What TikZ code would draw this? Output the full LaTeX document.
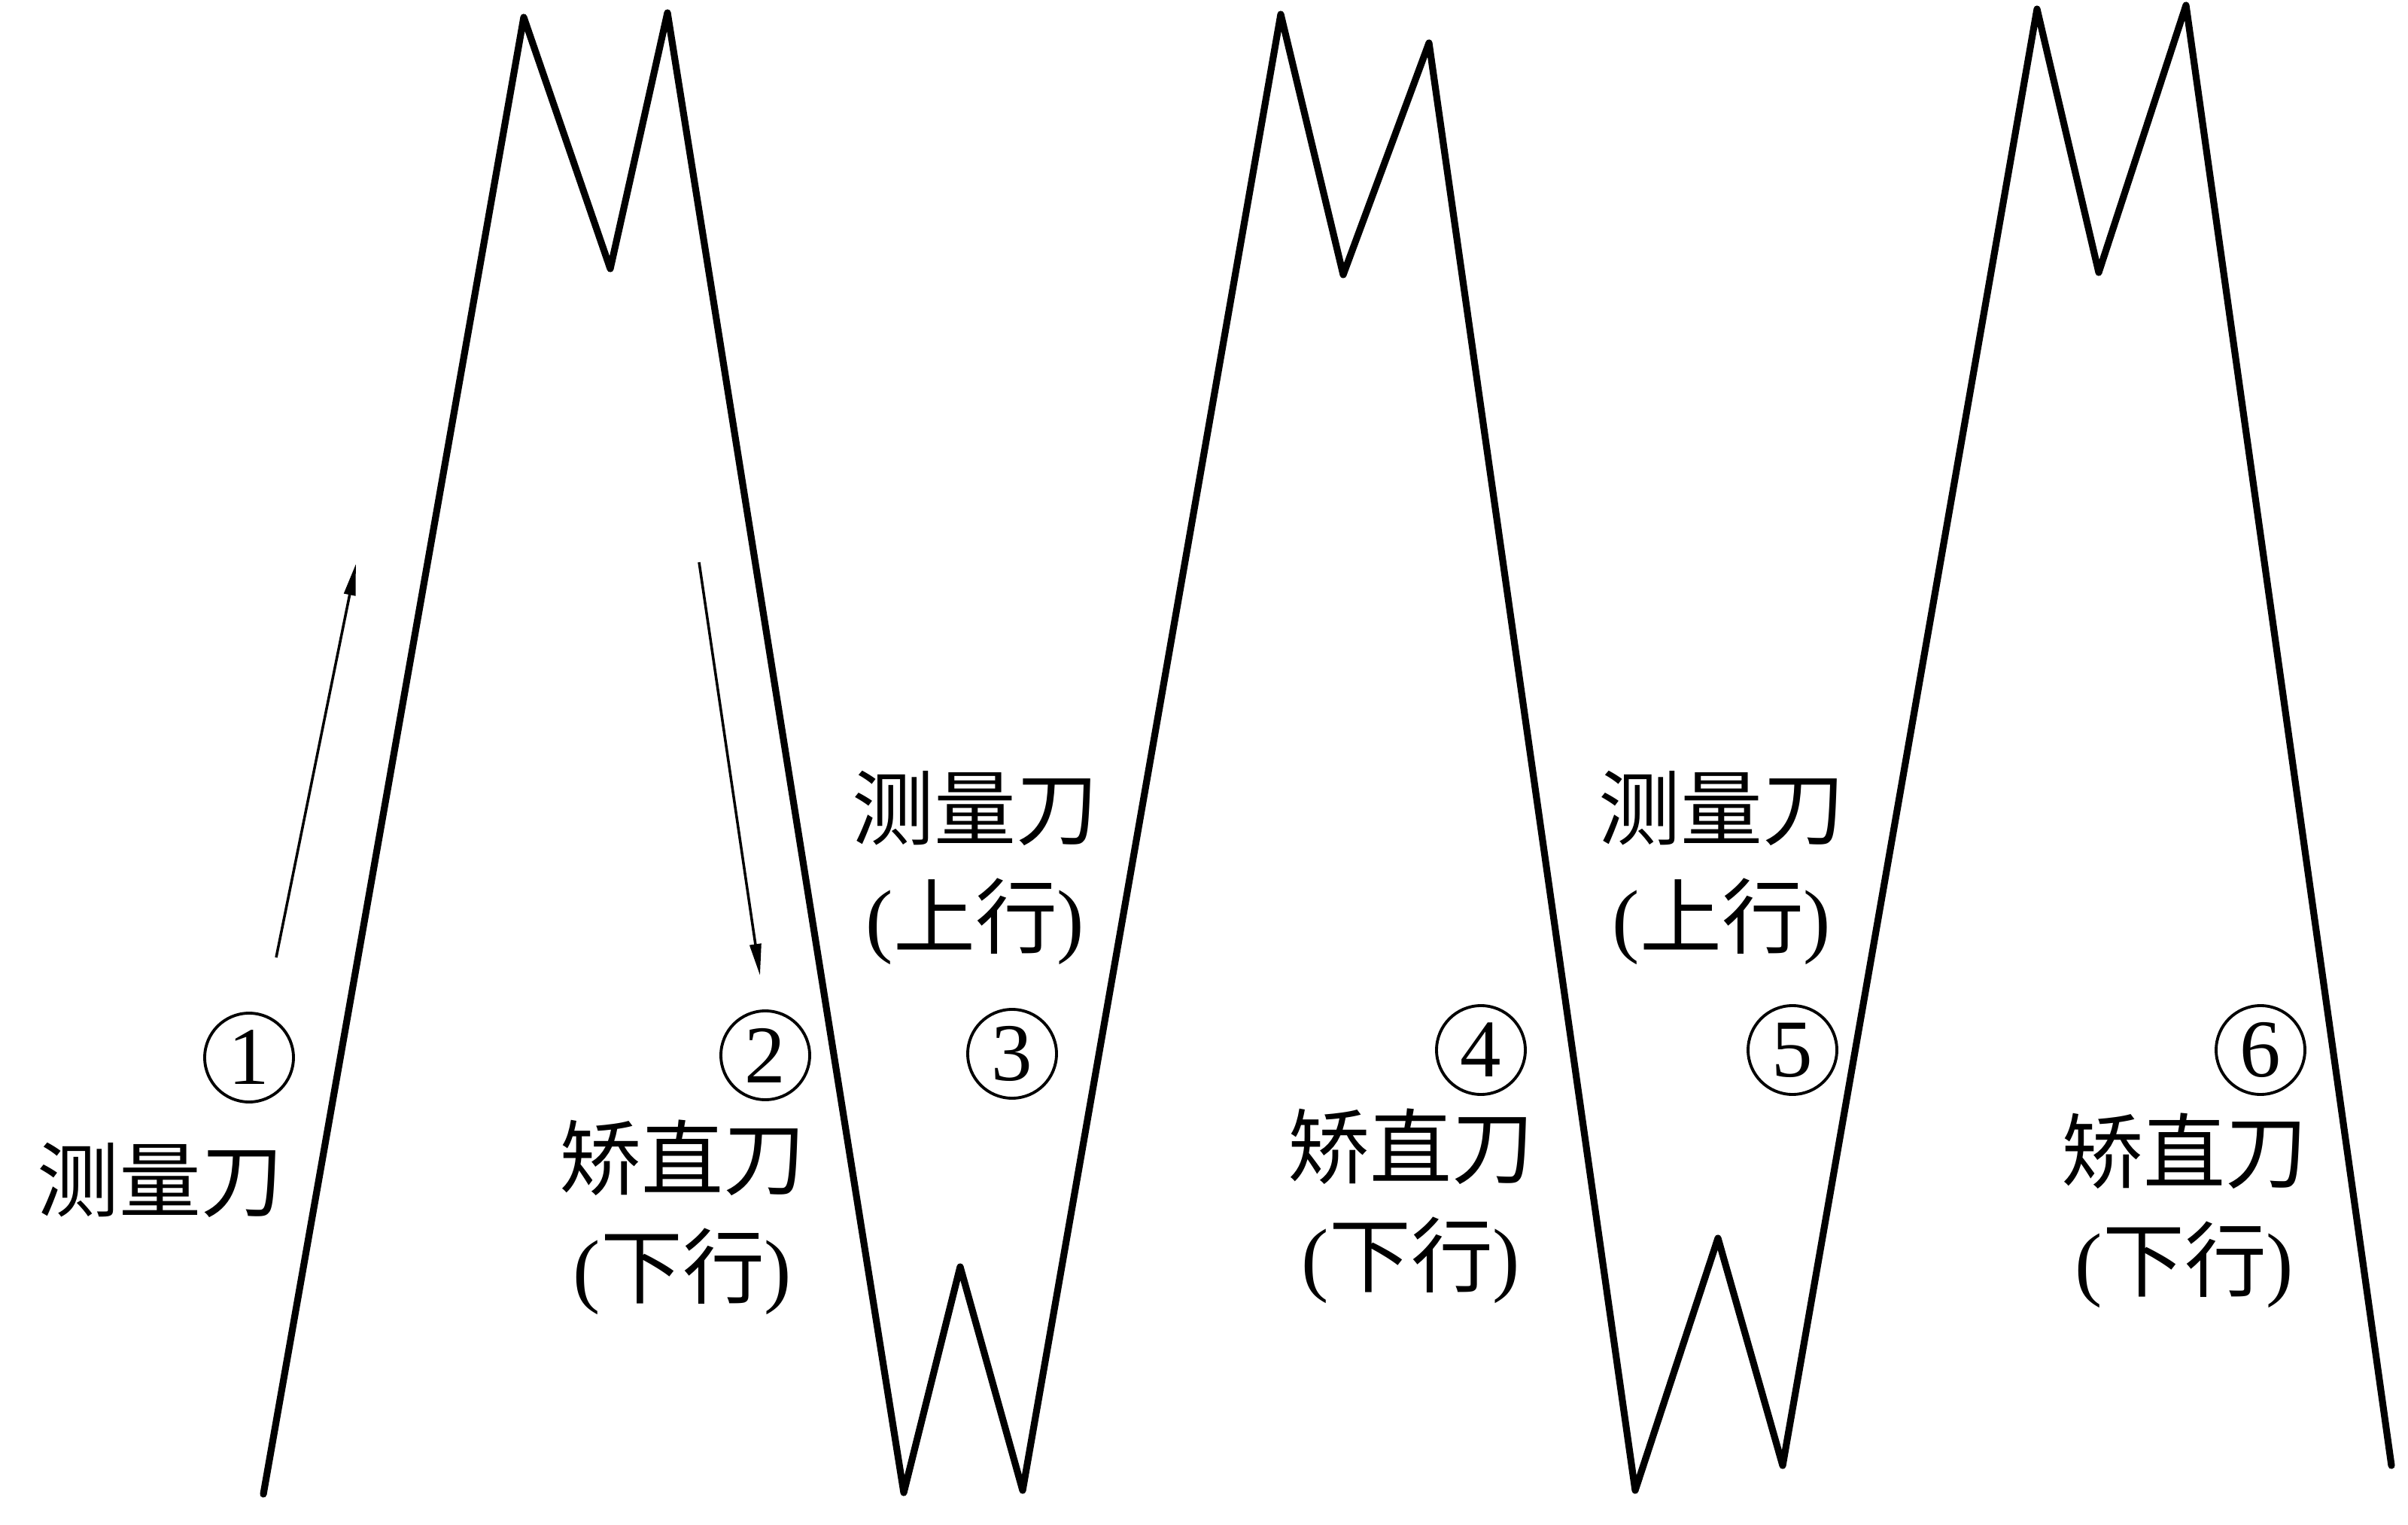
\documentclass[tikz,border=0pt]{standalone}
\usepackage{fontspec}
\setmainfont{Liberation Serif}
\newfontfamily\cjk{Noto Sans CJK SC}
\usetikzlibrary{arrows.meta}

\begin{document}
\begin{tikzpicture}[
        profile/.style={line width=2.6pt, line join=round, line cap=round},
        move/.style={line width=1pt, -{Triangle[length=4.2mm,width=1.5mm]}},
        num/.style={
        circle, draw=black, line width=1.1pt,
        inner sep=0pt, minimum size=1.18cm,
        font=\fontsize{31pt}{31pt}\selectfont},
        tag/.style={align=center, inner sep=0pt,
        font=\fontsize{31pt}{41pt}\selectfont},
        ]
        \useasboundingbox (0,0) rectangle (32,20.25);

        % tooth profile
        \coordinate (s)  at (3.50,0.40);
        \coordinate (p1) at (6.96,20.02);
        \coordinate (v1) at (8.11,16.68);
        \coordinate (p2) at (8.87,20.08);
        \coordinate (b1) at (12.01,0.42);
        \coordinate (m1) at (12.76,3.42);
        \coordinate (b2) at (13.59,0.45);
        \coordinate (p3) at (17.02,20.06);
        \coordinate (v3) at (17.85,16.60);
        \coordinate (p4) at (18.99,19.68);
        \coordinate (b3) at (21.73,0.45);
        \coordinate (m2) at (22.83,3.80);
        \coordinate (b4) at (23.69,0.78);
        \coordinate (p5) at (27.07,20.13);
        \coordinate (v5) at (27.89,16.63);
        \coordinate (p6) at (29.05,20.18);
        \coordinate (e)  at (31.78,0.78);

        \draw[profile] (s) -- (p1) -- (v1) -- (p2) -- (b1) -- (m1) -- (b2)
            -- (p3) -- (v3) -- (p4) -- (b3) -- (m2) -- (b4)
            -- (p5) -- (v5) -- (p6) -- (e);

        % travel arrows
        \coordinate (up0) at (3.67,7.53);
        \coordinate (up1) at (4.73,12.76);
        \coordinate (dn0) at (9.29,12.78);
        \coordinate (dn1) at (10.10,7.29);
        \draw[move] (up0) -- (up1);
        \draw[move] (dn0) -- (dn1);

        \node (n1) [num] at (3.31,6.20) {1};
        \node (n2) [num] at (10.17,6.23) {2};
        \node (n3) [num] at (13.45,6.25) {3};
        \node (n4) [num] at (19.68,6.30) {4};
        \node (n5) [num] at (23.82,6.30) {5};
        \node (n6) [num] at (30.04,6.30) {6};

        \node (t1) [tag] at (2.13,4.57) {\cjk 测量刀};
        \node (t2) [tag] at (9.07,4.08) {{\cjk 矫直刀}\\({\cjk 下行})};
        \node (t3) [tag] at (12.96,8.72) {{\cjk 测量刀}\\({\cjk 上行})};
        \node (t4) [tag] at (18.75,4.23) {{\cjk 矫直刀}\\({\cjk 下行})};
        \node (t5) [tag] at (22.88,8.72) {{\cjk 测量刀}\\({\cjk 上行})};
        \node (t6) [tag] at (29.03,4.17) {{\cjk 矫直刀}\\({\cjk 下行})};
    \end{tikzpicture}
\end{document}
